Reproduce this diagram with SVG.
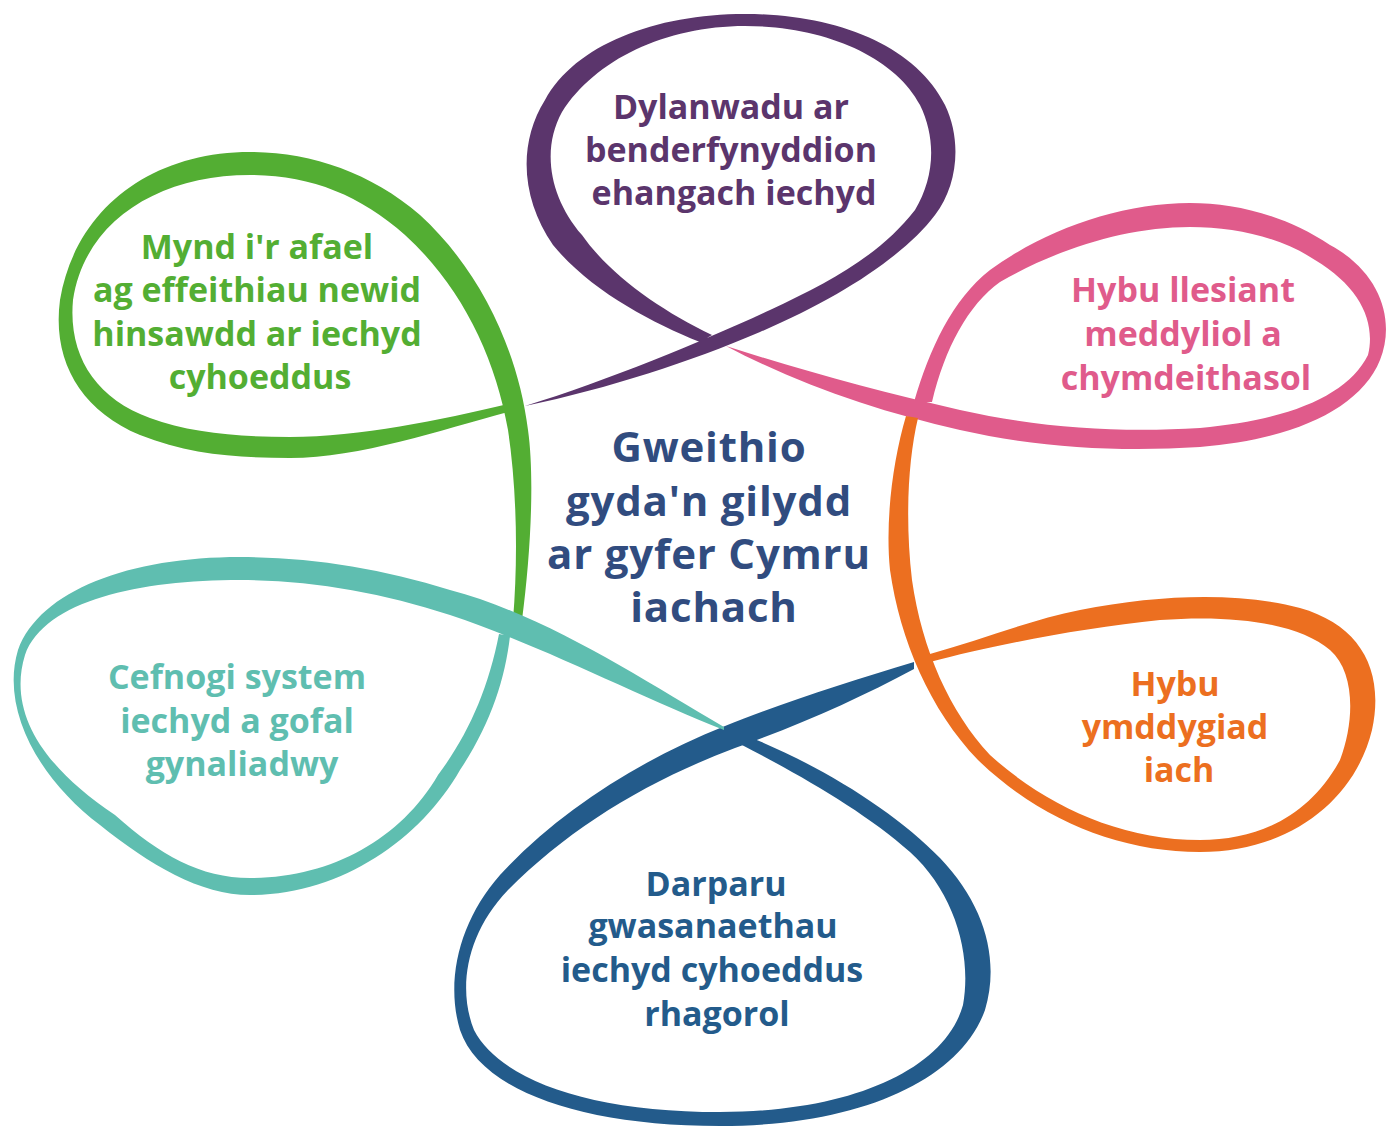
<svg xmlns="http://www.w3.org/2000/svg" width="1386" height="1128" viewBox="0 0 1386 1128">
<style>
text{font-family:"Open Sans","Noto Sans","Liberation Sans",sans-serif;font-weight:700;text-anchor:middle}
.lbl{font-size:34px}
.ctr{font-size:42px;letter-spacing:0.8px;fill:#314c7f}
</style>
<rect width="1386" height="1128" fill="#ffffff"/>
<g id="connectors">
<path id="ribbon-green" fill="#53ae33" d="M 522,620 C 530,560 535,480 528,430 C 518,350 480,270 420,215 C 370,172 310,152 250,152 C 150,152 75,210 60,300 C 52,360 80,410 140,435 C 190,455 240,458 290,458 C 360,458 440,430 508,412 L 508,404 C 440,420 360,437 290,437 C 240,437 190,433 150,418 C 95,398 68,355 73,300 C 85,220 160,175 250,175 C 310,175 360,195 405,235 C 460,285 495,355 508,430 C 517,490 518,560 513,620 Z"/>
<path id="ribbon-purple" fill="#5b356c" d="M 525,406 C 610,388 690,362 760,332 C 840,298 905,255 935,215 C 958,185 962,140 945,105 C 915,45 835,14 745,14 C 655,14 575,45 545,100 C 517,145 522,200 553,245 C 590,290 650,322 700,342 L 712,335 C 660,310 610,275 582,235 C 550,198 541,150 562,112 C 595,60 665,26 745,26 C 825,26 895,57 920,105 C 937,140 934,178 915,210 C 880,255 830,282 770,310 C 710,338 610,380 525,406 Z"/>
<path id="ribbon-pink" fill="#e05b8b" d="M 726,346 C 800,385 880,412 960,430 C 1040,448 1120,452 1200,447 C 1290,440 1360,410 1380,360 C 1396,320 1380,272 1330,245 C 1285,215 1235,203 1190,203 C 1120,203 1045,230 990,270 C 952,300 930,348 914,402 L 932,402 C 945,348 968,305 1000,282 C 1055,250 1125,227 1190,227 C 1235,227 1280,237 1315,260 C 1360,287 1376,322 1368,355 C 1348,395 1290,420 1200,428 C 1120,433 1040,428 960,410 C 880,392 800,370 726,346 Z"/>
<path id="ribbon-orange" fill="#ec6f20" d="M 906,416 C 893,460 885,520 890,570 C 900,640 930,710 978,760 C 1040,820 1120,852 1200,852 C 1290,852 1355,800 1372,730 C 1385,670 1360,625 1300,608 C 1240,592 1160,594 1080,610 C 1030,620 980,640 930,654 L 930,662 C 990,646 1080,628 1160,620 C 1240,614 1300,625 1330,650 C 1355,672 1355,720 1340,760 C 1310,815 1260,840 1200,840 C 1120,840 1045,805 990,755 C 950,712 922,650 912,580 C 905,520 908,460 918,418 Z"/>
<path id="ribbon-blue" fill="#235b8b" d="M 914,662 C 850,681 780,704 725,726 C 640,760 560,810 500,875 C 460,920 445,980 460,1030 C 480,1090 580,1126 720,1126 C 860,1126 960,1080 985,1010 C 1000,960 985,905 940,858 C 895,812 825,768 752,738 L 742,745 C 800,775 865,812 910,852 C 955,893 972,955 963,1005 C 945,1070 850,1112 720,1112 C 590,1112 500,1080 474,1030 C 458,990 465,935 508,890 C 570,828 645,782 735,748 C 800,725 860,698 914,669 Z"/>
<path id="ribbon-teal" fill="#5fbeb0" d="M 724,727 C 640,678 545,615 450,590 C 380,568 310,557 240,557 C 130,557 40,590 18,650 C 0,710 40,780 100,825 C 150,865 200,895 250,895 C 340,895 420,840 460,770 C 490,725 505,680 510,636 L 499,634 C 488,690 468,735 438,775 C 400,840 330,878 250,878 C 200,878 160,855 115,815 C 40,765 8,710 25,655 C 45,600 140,580 240,580 C 310,580 380,592 450,615 C 540,645 640,697 724,730 Z"/>
</g>
<g id="node-centre">
<text class="ctr" x="709" y="462">Gweithio</text>
<text class="ctr" x="709" y="516">gyda'n gilydd</text>
<text class="ctr" x="709" y="569">ar gyfer Cymru</text>
<text class="ctr" x="714" y="622">iachach</text>
</g>
<g id="node-purple" fill="#5b356c">
<text class="lbl" x="731" y="119">Dylanwadu ar</text>
<text class="lbl" x="731" y="162">benderfynyddion</text>
<text class="lbl" x="734" y="205">ehangach iechyd</text>
</g>
<g id="node-green" fill="#53ae33">
<text class="lbl" x="257" y="259">Mynd i'r afael</text>
<text class="lbl" x="257" y="302">ag effeithiau newid</text>
<text class="lbl" x="257" y="346">hinsawdd ar iechyd</text>
<text class="lbl" x="260" y="389">cyhoeddus</text>
</g>
<g id="node-pink" fill="#e05b8b">
<text class="lbl" x="1183" y="302">Hybu llesiant</text>
<text class="lbl" x="1183" y="346">meddyliol a</text>
<text class="lbl" x="1186" y="390">chymdeithasol</text>
</g>
<g id="node-orange" fill="#ec6f20">
<text class="lbl" x="1175" y="696">Hybu</text>
<text class="lbl" x="1175" y="739">ymddygiad</text>
<text class="lbl" x="1179" y="782">iach</text>
</g>
<g id="node-blue" fill="#235b8b">
<text class="lbl" x="716" y="896">Darparu</text>
<text class="lbl" x="713" y="938">gwasanaethau</text>
<text class="lbl" x="712" y="982">iechyd cyhoeddus</text>
<text class="lbl" x="717" y="1026">rhagorol</text>
</g>
<g id="node-teal" fill="#5fbeb0">
<text class="lbl" x="237" y="689">Cefnogi system</text>
<text class="lbl" x="237" y="733">iechyd a gofal</text>
<text class="lbl" x="242" y="776">gynaliadwy</text>
</g>
</svg>
